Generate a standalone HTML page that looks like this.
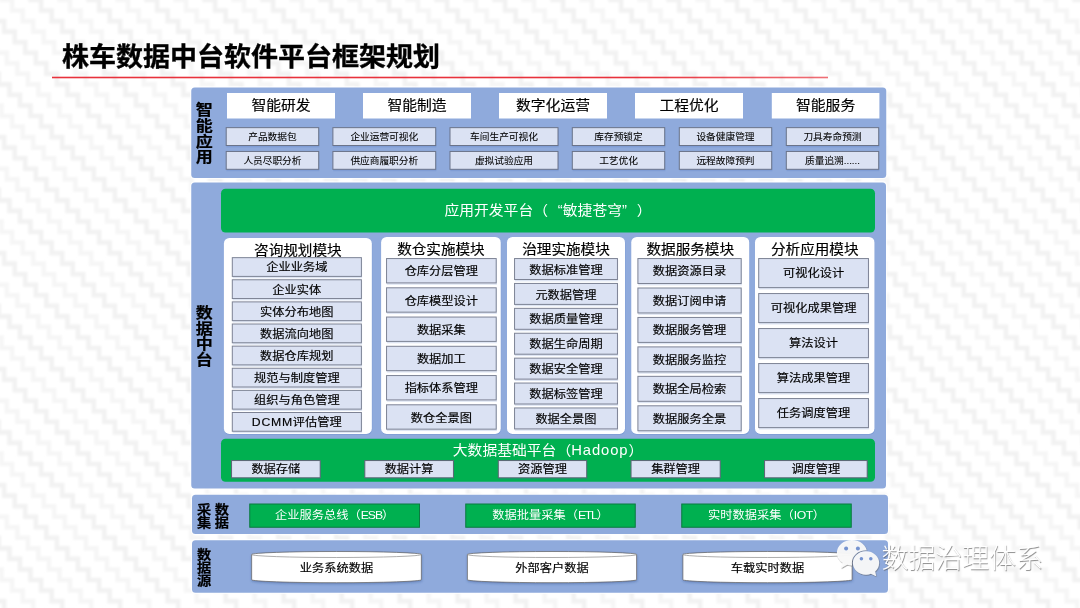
<!DOCTYPE html>
<html lang="zh-CN">
<head>
<meta charset="utf-8">
<title>株车数据中台软件平台框架规划</title>
<style>
html,body{margin:0;padding:0;}
body{width:1080px;height:608px;overflow:hidden;position:relative;background:#fff;font-family:"Liberation Sans", "Noto Sans CJK SC", sans-serif;color:#000;}
svg.layer{position:absolute;left:0;top:0;width:1080px;height:608px;}
.t{position:absolute;box-sizing:border-box;text-align:center;white-space:nowrap;}
#tx{position:absolute;left:0;top:0;width:1080px;height:608px;will-change:transform;filter:blur(.3px);}
#sv{filter:blur(.3px);}
#title{position:absolute;left:62px;top:36.75px;font-size:27px;line-height:40px;font-weight:bold;white-space:nowrap;-webkit-text-stroke:0.35px #000;transform:scaleY(.955);transform-origin:50% 46%;}
.head{font-size:14.8px;}
.mt{font-size:14.6px;}
.head,.m,.cy,.mt{-webkit-text-stroke:0.18px #000;}
.s{-webkit-text-stroke:0.08px #000;}
.s{font-size:9.7px;}
.m{font-size:12.25px;}
.gt{color:#fff;font-size:14.8px;}
.head,.s,.m,.gt,.gb,.cy,.mt{transform:scaleY(.93);transform-origin:50% 47%;}
.gt i{font-style:normal;display:inline-block;width:1em;}
.gt i.ql{text-align:right;}
.gt i.qr{text-align:left;}
.la{letter-spacing:.06em;}
.lb{letter-spacing:-.09em;}
.lc{letter-spacing:-.11em;}
.ld{letter-spacing:-.045em;}
.le{letter-spacing:0;}
.gb{color:#fff;font-size:12.25px;}
.cy{font-size:12.25px;}
.vlab{font-weight:bold;-webkit-text-stroke:0.25px #000;}
#wmt{position:absolute;left:881.6px;top:541.1px;font-size:26.9px;line-height:36px;font-weight:300;color:#fff;white-space:nowrap;text-shadow:0.6px 0.8px 0.7px rgba(80,80,80,.65);}
</style>
</head>
<body>
<svg class="layer" id="sv" width="1080" height="608" viewBox="0 0 1080 608">
<defs>
<pattern id="zz" width="58" height="116" patternUnits="userSpaceOnUse" patternTransform="translate(20,0)"><g fill="none" stroke="#f2f2f2" stroke-width="4.6"><path d="M-232.00 -21.09 V-10.55 H-221.45 V0.00 H-210.91 V10.55 H-200.36 V21.09 H-189.82 V31.64 H-179.27 V42.18 H-168.73 V52.73 H-158.18 V63.27 H-147.64 V73.82 H-137.09 V84.36 H-126.55 V94.91 H-116.00 V105.45 H-105.45 V116.00 H-94.91 V126.55 H-84.36 V137.09 H-73.82"/><path d="M-174.00 -21.09 V-10.55 H-163.45 V0.00 H-152.91 V10.55 H-142.36 V21.09 H-131.82 V31.64 H-121.27 V42.18 H-110.73 V52.73 H-100.18 V63.27 H-89.64 V73.82 H-79.09 V84.36 H-68.55 V94.91 H-58.00 V105.45 H-47.45 V116.00 H-36.91 V126.55 H-26.36 V137.09 H-15.82"/><path d="M-116.00 -21.09 V-10.55 H-105.45 V0.00 H-94.91 V10.55 H-84.36 V21.09 H-73.82 V31.64 H-63.27 V42.18 H-52.73 V52.73 H-42.18 V63.27 H-31.64 V73.82 H-21.09 V84.36 H-10.55 V94.91 H0.00 V105.45 H10.55 V116.00 H21.09 V126.55 H31.64 V137.09 H42.18"/><path d="M-58.00 -21.09 V-10.55 H-47.45 V0.00 H-36.91 V10.55 H-26.36 V21.09 H-15.82 V31.64 H-5.27 V42.18 H5.27 V52.73 H15.82 V63.27 H26.36 V73.82 H36.91 V84.36 H47.45 V94.91 H58.00 V105.45 H68.55 V116.00 H79.09 V126.55 H89.64 V137.09 H100.18"/><path d="M0.00 -21.09 V-10.55 H10.55 V0.00 H21.09 V10.55 H31.64 V21.09 H42.18 V31.64 H52.73 V42.18 H63.27 V52.73 H73.82 V63.27 H84.36 V73.82 H94.91 V84.36 H105.45 V94.91 H116.00 V105.45 H126.55 V116.00 H137.09 V126.55 H147.64 V137.09 H158.18"/><path d="M58.00 -21.09 V-10.55 H68.55 V0.00 H79.09 V10.55 H89.64 V21.09 H100.18 V31.64 H110.73 V42.18 H121.27 V52.73 H131.82 V63.27 H142.36 V73.82 H152.91 V84.36 H163.45 V94.91 H174.00 V105.45 H184.55 V116.00 H195.09 V126.55 H205.64 V137.09 H216.18"/><path d="M116.00 -21.09 V-10.55 H126.55 V0.00 H137.09 V10.55 H147.64 V21.09 H158.18 V31.64 H168.73 V42.18 H179.27 V52.73 H189.82 V63.27 H200.36 V73.82 H210.91 V84.36 H221.45 V94.91 H232.00 V105.45 H242.55 V116.00 H253.09 V126.55 H263.64 V137.09 H274.18"/></g><g fill="none" stroke="#f6f6f6" stroke-width="4.6"><path d="M-203.00 -21.09 V-10.55 H-192.45 V0.00 H-181.91 V10.55 H-171.36 V21.09 H-160.82 V31.64 H-150.27 V42.18 H-139.73 V52.73 H-129.18 V63.27 H-118.64 V73.82 H-108.09 V84.36 H-97.55 V94.91 H-87.00 V105.45 H-76.45 V116.00 H-65.91 V126.55 H-55.36 V137.09 H-44.82"/><path d="M-145.00 -21.09 V-10.55 H-134.45 V0.00 H-123.91 V10.55 H-113.36 V21.09 H-102.82 V31.64 H-92.27 V42.18 H-81.73 V52.73 H-71.18 V63.27 H-60.64 V73.82 H-50.09 V84.36 H-39.55 V94.91 H-29.00 V105.45 H-18.45 V116.00 H-7.91 V126.55 H2.64 V137.09 H13.18"/><path d="M-87.00 -21.09 V-10.55 H-76.45 V0.00 H-65.91 V10.55 H-55.36 V21.09 H-44.82 V31.64 H-34.27 V42.18 H-23.73 V52.73 H-13.18 V63.27 H-2.64 V73.82 H7.91 V84.36 H18.45 V94.91 H29.00 V105.45 H39.55 V116.00 H50.09 V126.55 H60.64 V137.09 H71.18"/><path d="M-29.00 -21.09 V-10.55 H-18.45 V0.00 H-7.91 V10.55 H2.64 V21.09 H13.18 V31.64 H23.73 V42.18 H34.27 V52.73 H44.82 V63.27 H55.36 V73.82 H65.91 V84.36 H76.45 V94.91 H87.00 V105.45 H97.55 V116.00 H108.09 V126.55 H118.64 V137.09 H129.18"/><path d="M29.00 -21.09 V-10.55 H39.55 V0.00 H50.09 V10.55 H60.64 V21.09 H71.18 V31.64 H81.73 V42.18 H92.27 V52.73 H102.82 V63.27 H113.36 V73.82 H123.91 V84.36 H134.45 V94.91 H145.00 V105.45 H155.55 V116.00 H166.09 V126.55 H176.64 V137.09 H187.18"/><path d="M87.00 -21.09 V-10.55 H97.55 V0.00 H108.09 V10.55 H118.64 V21.09 H129.18 V31.64 H139.73 V42.18 H150.27 V52.73 H160.82 V63.27 H171.36 V73.82 H181.91 V84.36 H192.45 V94.91 H203.00 V105.45 H213.55 V116.00 H224.09 V126.55 H234.64 V137.09 H245.18"/><path d="M145.00 -21.09 V-10.55 H155.55 V0.00 H166.09 V10.55 H176.64 V21.09 H187.18 V31.64 H197.73 V42.18 H208.27 V52.73 H218.82 V63.27 H229.36 V73.82 H239.91 V84.36 H250.45 V94.91 H261.00 V105.45 H271.55 V116.00 H282.09 V126.55 H292.64 V137.09 H303.18"/></g></pattern>
<clipPath id="b1c"><path clip-rule="evenodd" d="M830 535 H885 V580 H830 Z M866 550.2 A14.2 12.8 0 0 0 851.8 563 A14.2 12.8 0 0 0 866 575.8 A14.2 12.8 0 0 0 880.2 563 A14.2 12.8 0 0 0 866 550.2 Z"/></clipPath>
<linearGradient id="rl" x1="0" x2="1" y1="0" y2="0">
<stop offset="0" stop-color="#e8323c"/><stop offset="0.75" stop-color="#e8323c"/><stop offset="1" stop-color="#e8323c" stop-opacity=".7"/>
</linearGradient>
<filter id="cs" x="-5%" y="-20%" width="110%" height="150%"><feDropShadow dx="0.3" dy="1.2" stdDeviation="0.9" flood-color="#2a4a8a" flood-opacity=".4"/></filter>
<filter id="bgb" x="0" y="0" width="100%" height="100%"><feGaussianBlur stdDeviation="0.9"/></filter>
<filter id="sh" x="-10%" y="-10%" width="120%" height="130%"><feDropShadow dx="0.5" dy="0.8" stdDeviation="0.4" flood-color="#505050" flood-opacity=".7"/></filter>
</defs>
<rect width="1080" height="608" fill="#fff"/>
<rect x="-5" y="-5" width="1090" height="618" fill="url(#zz)" filter="url(#bgb)"/>
<rect x="52" y="76.7" width="776" height="1.6" fill="url(#rl)"/>
<rect x="190.05" y="86.30" width="697.40" height="92.90" fill="#ffffff" rx="4.50" opacity=".75"/>
<rect x="191.25" y="87.50" width="695.00" height="90.50" fill="#8faadc" rx="3.50"/>
<rect x="190.05" y="181.30" width="697.15" height="308.40" fill="#ffffff" rx="4.50" opacity=".75"/>
<rect x="191.25" y="182.50" width="694.75" height="306.00" fill="#8faadc" rx="3.50"/>
<rect x="190.80" y="493.55" width="698.40" height="41.65" fill="#ffffff" rx="4.50" opacity=".75"/>
<rect x="192.00" y="494.75" width="696.00" height="39.25" fill="#8faadc" rx="3.50"/>
<rect x="190.80" y="539.05" width="698.40" height="54.90" fill="#ffffff" rx="4.50" opacity=".75"/>
<rect x="192.00" y="540.25" width="696.00" height="52.50" fill="#8faadc" rx="3.50"/>
<rect x="227.00" y="93.00" width="108.00" height="25.50" fill="#fff"/>
<rect x="363.00" y="93.00" width="108.00" height="25.50" fill="#fff"/>
<rect x="499.00" y="93.00" width="108.00" height="25.50" fill="#fff"/>
<rect x="635.00" y="93.00" width="108.00" height="25.50" fill="#fff"/>
<rect x="771.80" y="93.00" width="107.60" height="25.50" fill="#fff"/>
<rect x="226.50" y="128.80" width="92.90" height="18.60" fill="#2f5cb5" opacity=".16"/>
<rect x="226.20" y="127.65" width="92.50" height="17.85" fill="#dbe2f3" stroke="#6a7389" stroke-width="1.00"/>
<rect x="333.20" y="128.80" width="103.20" height="18.60" fill="#2f5cb5" opacity=".16"/>
<rect x="332.90" y="127.65" width="102.80" height="17.85" fill="#dbe2f3" stroke="#6a7389" stroke-width="1.00"/>
<rect x="450.30" y="128.80" width="108.40" height="18.60" fill="#2f5cb5" opacity=".16"/>
<rect x="450.00" y="127.65" width="108.00" height="17.85" fill="#dbe2f3" stroke="#6a7389" stroke-width="1.00"/>
<rect x="572.60" y="128.80" width="92.80" height="18.60" fill="#2f5cb5" opacity=".16"/>
<rect x="572.30" y="127.65" width="92.40" height="17.85" fill="#dbe2f3" stroke="#6a7389" stroke-width="1.00"/>
<rect x="679.60" y="128.80" width="92.80" height="18.60" fill="#2f5cb5" opacity=".16"/>
<rect x="679.30" y="127.65" width="92.40" height="17.85" fill="#dbe2f3" stroke="#6a7389" stroke-width="1.00"/>
<rect x="786.60" y="128.80" width="92.80" height="18.60" fill="#2f5cb5" opacity=".16"/>
<rect x="786.30" y="127.65" width="92.40" height="17.85" fill="#dbe2f3" stroke="#6a7389" stroke-width="1.00"/>
<rect x="226.50" y="152.60" width="92.90" height="18.60" fill="#2f5cb5" opacity=".16"/>
<rect x="226.20" y="151.45" width="92.50" height="17.85" fill="#dbe2f3" stroke="#6a7389" stroke-width="1.00"/>
<rect x="333.20" y="152.60" width="103.20" height="18.60" fill="#2f5cb5" opacity=".16"/>
<rect x="332.90" y="151.45" width="102.80" height="17.85" fill="#dbe2f3" stroke="#6a7389" stroke-width="1.00"/>
<rect x="450.30" y="152.60" width="108.40" height="18.60" fill="#2f5cb5" opacity=".16"/>
<rect x="450.00" y="151.45" width="108.00" height="17.85" fill="#dbe2f3" stroke="#6a7389" stroke-width="1.00"/>
<rect x="572.60" y="152.60" width="92.80" height="18.60" fill="#2f5cb5" opacity=".16"/>
<rect x="572.30" y="151.45" width="92.40" height="17.85" fill="#dbe2f3" stroke="#6a7389" stroke-width="1.00"/>
<rect x="679.60" y="152.60" width="92.80" height="18.60" fill="#2f5cb5" opacity=".16"/>
<rect x="679.30" y="151.45" width="92.40" height="17.85" fill="#dbe2f3" stroke="#6a7389" stroke-width="1.00"/>
<rect x="786.60" y="152.60" width="92.80" height="18.60" fill="#2f5cb5" opacity=".16"/>
<rect x="786.30" y="151.45" width="92.40" height="17.85" fill="#dbe2f3" stroke="#6a7389" stroke-width="1.00"/>
<rect x="221.00" y="188.75" width="654.00" height="43.75" fill="#00b050" rx="4.50"/>
<rect x="224.30" y="238.80" width="147.95" height="196.00" rx="5.5" fill="#2f5cb5" opacity=".18"/>
<rect x="223.90" y="237.90" width="147.95" height="196.00" fill="#fff" rx="5.50"/>
<rect x="232.60" y="258.80" width="129.50" height="19.50" fill="#2f5cb5" opacity=".16"/>
<rect x="232.30" y="257.65" width="129.10" height="18.75" fill="#dbe2f3" stroke="#7d8395" stroke-width="1.00"/>
<rect x="232.60" y="280.92" width="129.50" height="19.50" fill="#2f5cb5" opacity=".16"/>
<rect x="232.30" y="279.77" width="129.10" height="18.75" fill="#dbe2f3" stroke="#7d8395" stroke-width="1.00"/>
<rect x="232.60" y="303.04" width="129.50" height="19.50" fill="#2f5cb5" opacity=".16"/>
<rect x="232.30" y="301.89" width="129.10" height="18.75" fill="#dbe2f3" stroke="#7d8395" stroke-width="1.00"/>
<rect x="232.60" y="325.16" width="129.50" height="19.50" fill="#2f5cb5" opacity=".16"/>
<rect x="232.30" y="324.01" width="129.10" height="18.75" fill="#dbe2f3" stroke="#7d8395" stroke-width="1.00"/>
<rect x="232.60" y="347.28" width="129.50" height="19.50" fill="#2f5cb5" opacity=".16"/>
<rect x="232.30" y="346.13" width="129.10" height="18.75" fill="#dbe2f3" stroke="#7d8395" stroke-width="1.00"/>
<rect x="232.60" y="369.40" width="129.50" height="19.50" fill="#2f5cb5" opacity=".16"/>
<rect x="232.30" y="368.25" width="129.10" height="18.75" fill="#dbe2f3" stroke="#7d8395" stroke-width="1.00"/>
<rect x="232.60" y="391.52" width="129.50" height="19.50" fill="#2f5cb5" opacity=".16"/>
<rect x="232.30" y="390.37" width="129.10" height="18.75" fill="#dbe2f3" stroke="#7d8395" stroke-width="1.00"/>
<rect x="232.60" y="413.64" width="129.50" height="19.50" fill="#2f5cb5" opacity=".16"/>
<rect x="232.30" y="412.49" width="129.10" height="18.75" fill="#dbe2f3" stroke="#7d8395" stroke-width="1.00"/>
<rect x="381.50" y="237.90" width="119.65" height="196.90" rx="5.5" fill="#2f5cb5" opacity=".18"/>
<rect x="381.10" y="237.00" width="119.65" height="196.90" fill="#fff" rx="5.50"/>
<rect x="386.85" y="259.70" width="110.05" height="25.10" fill="#2f5cb5" opacity=".16"/>
<rect x="386.55" y="258.55" width="109.65" height="24.35" fill="#dbe2f3" stroke="#7d8395" stroke-width="1.00"/>
<rect x="386.85" y="288.95" width="110.05" height="25.10" fill="#2f5cb5" opacity=".16"/>
<rect x="386.55" y="287.80" width="109.65" height="24.35" fill="#dbe2f3" stroke="#7d8395" stroke-width="1.00"/>
<rect x="386.85" y="318.20" width="110.05" height="25.10" fill="#2f5cb5" opacity=".16"/>
<rect x="386.55" y="317.05" width="109.65" height="24.35" fill="#dbe2f3" stroke="#7d8395" stroke-width="1.00"/>
<rect x="386.85" y="347.45" width="110.05" height="25.10" fill="#2f5cb5" opacity=".16"/>
<rect x="386.55" y="346.30" width="109.65" height="24.35" fill="#dbe2f3" stroke="#7d8395" stroke-width="1.00"/>
<rect x="386.85" y="376.70" width="110.05" height="25.10" fill="#2f5cb5" opacity=".16"/>
<rect x="386.55" y="375.55" width="109.65" height="24.35" fill="#dbe2f3" stroke="#7d8395" stroke-width="1.00"/>
<rect x="386.85" y="405.95" width="110.05" height="25.10" fill="#2f5cb5" opacity=".16"/>
<rect x="386.55" y="404.80" width="109.65" height="24.35" fill="#dbe2f3" stroke="#7d8395" stroke-width="1.00"/>
<rect x="507.40" y="237.90" width="118.00" height="196.90" rx="5.5" fill="#2f5cb5" opacity=".18"/>
<rect x="507.00" y="237.00" width="118.00" height="196.90" fill="#fff" rx="5.50"/>
<rect x="514.85" y="259.70" width="103.30" height="21.70" fill="#2f5cb5" opacity=".16"/>
<rect x="514.55" y="258.55" width="102.90" height="20.95" fill="#dbe2f3" stroke="#7d8395" stroke-width="1.00"/>
<rect x="514.85" y="284.60" width="103.30" height="21.70" fill="#2f5cb5" opacity=".16"/>
<rect x="514.55" y="283.45" width="102.90" height="20.95" fill="#dbe2f3" stroke="#7d8395" stroke-width="1.00"/>
<rect x="514.85" y="309.50" width="103.30" height="21.70" fill="#2f5cb5" opacity=".16"/>
<rect x="514.55" y="308.35" width="102.90" height="20.95" fill="#dbe2f3" stroke="#7d8395" stroke-width="1.00"/>
<rect x="514.85" y="334.40" width="103.30" height="21.70" fill="#2f5cb5" opacity=".16"/>
<rect x="514.55" y="333.25" width="102.90" height="20.95" fill="#dbe2f3" stroke="#7d8395" stroke-width="1.00"/>
<rect x="514.85" y="359.30" width="103.30" height="21.70" fill="#2f5cb5" opacity=".16"/>
<rect x="514.55" y="358.15" width="102.90" height="20.95" fill="#dbe2f3" stroke="#7d8395" stroke-width="1.00"/>
<rect x="514.85" y="384.20" width="103.30" height="21.70" fill="#2f5cb5" opacity=".16"/>
<rect x="514.55" y="383.05" width="102.90" height="20.95" fill="#dbe2f3" stroke="#7d8395" stroke-width="1.00"/>
<rect x="514.85" y="409.10" width="103.30" height="21.70" fill="#2f5cb5" opacity=".16"/>
<rect x="514.55" y="407.95" width="102.90" height="20.95" fill="#dbe2f3" stroke="#7d8395" stroke-width="1.00"/>
<rect x="631.65" y="237.90" width="118.00" height="196.90" rx="5.5" fill="#2f5cb5" opacity=".18"/>
<rect x="631.25" y="237.00" width="118.00" height="196.90" fill="#fff" rx="5.50"/>
<rect x="638.20" y="259.70" width="103.70" height="25.70" fill="#2f5cb5" opacity=".16"/>
<rect x="637.90" y="258.55" width="103.30" height="24.95" fill="#dbe2f3" stroke="#7d8395" stroke-width="1.00"/>
<rect x="638.20" y="289.15" width="103.70" height="25.70" fill="#2f5cb5" opacity=".16"/>
<rect x="637.90" y="288.00" width="103.30" height="24.95" fill="#dbe2f3" stroke="#7d8395" stroke-width="1.00"/>
<rect x="638.20" y="318.60" width="103.70" height="25.70" fill="#2f5cb5" opacity=".16"/>
<rect x="637.90" y="317.45" width="103.30" height="24.95" fill="#dbe2f3" stroke="#7d8395" stroke-width="1.00"/>
<rect x="638.20" y="348.05" width="103.70" height="25.70" fill="#2f5cb5" opacity=".16"/>
<rect x="637.90" y="346.90" width="103.30" height="24.95" fill="#dbe2f3" stroke="#7d8395" stroke-width="1.00"/>
<rect x="638.20" y="377.50" width="103.70" height="25.70" fill="#2f5cb5" opacity=".16"/>
<rect x="637.90" y="376.35" width="103.30" height="24.95" fill="#dbe2f3" stroke="#7d8395" stroke-width="1.00"/>
<rect x="638.20" y="406.95" width="103.70" height="25.70" fill="#2f5cb5" opacity=".16"/>
<rect x="637.90" y="405.80" width="103.30" height="24.95" fill="#dbe2f3" stroke="#7d8395" stroke-width="1.00"/>
<rect x="755.40" y="237.90" width="119.50" height="196.90" rx="5.5" fill="#2f5cb5" opacity=".18"/>
<rect x="755.00" y="237.00" width="119.50" height="196.90" fill="#fff" rx="5.50"/>
<rect x="759.00" y="259.70" width="110.15" height="29.80" fill="#2f5cb5" opacity=".16"/>
<rect x="758.70" y="258.55" width="109.75" height="29.05" fill="#dbe2f3" stroke="#7d8395" stroke-width="1.00"/>
<rect x="759.00" y="294.70" width="110.15" height="29.80" fill="#2f5cb5" opacity=".16"/>
<rect x="758.70" y="293.55" width="109.75" height="29.05" fill="#dbe2f3" stroke="#7d8395" stroke-width="1.00"/>
<rect x="759.00" y="329.70" width="110.15" height="29.80" fill="#2f5cb5" opacity=".16"/>
<rect x="758.70" y="328.55" width="109.75" height="29.05" fill="#dbe2f3" stroke="#7d8395" stroke-width="1.00"/>
<rect x="759.00" y="364.70" width="110.15" height="29.80" fill="#2f5cb5" opacity=".16"/>
<rect x="758.70" y="363.55" width="109.75" height="29.05" fill="#dbe2f3" stroke="#7d8395" stroke-width="1.00"/>
<rect x="759.00" y="399.70" width="110.15" height="29.80" fill="#2f5cb5" opacity=".16"/>
<rect x="758.70" y="398.55" width="109.75" height="29.05" fill="#dbe2f3" stroke="#7d8395" stroke-width="1.00"/>
<rect x="221.00" y="438.75" width="654.00" height="43.00" fill="#00b050" rx="4.50"/>
<rect x="231.85" y="461.70" width="89.05" height="18.00" fill="#2f5cb5" opacity=".16"/>
<rect x="231.55" y="460.55" width="88.65" height="17.25" fill="#dbe2f3" stroke="#5c6675" stroke-width="1.00"/>
<rect x="365.10" y="461.70" width="89.05" height="18.00" fill="#2f5cb5" opacity=".16"/>
<rect x="364.80" y="460.55" width="88.65" height="17.25" fill="#dbe2f3" stroke="#5c6675" stroke-width="1.00"/>
<rect x="498.60" y="461.70" width="88.80" height="18.00" fill="#2f5cb5" opacity=".16"/>
<rect x="498.30" y="460.55" width="88.40" height="17.25" fill="#dbe2f3" stroke="#5c6675" stroke-width="1.00"/>
<rect x="631.35" y="461.70" width="89.55" height="18.00" fill="#2f5cb5" opacity=".16"/>
<rect x="631.05" y="460.55" width="89.15" height="17.25" fill="#dbe2f3" stroke="#5c6675" stroke-width="1.00"/>
<rect x="764.85" y="461.70" width="103.05" height="18.00" fill="#2f5cb5" opacity=".16"/>
<rect x="764.55" y="460.55" width="102.65" height="17.25" fill="#dbe2f3" stroke="#5c6675" stroke-width="1.00"/>
<rect x="249.75" y="504.00" width="169.75" height="23.25" fill="#00b050" stroke="#0b7a40" stroke-width="1.00"/>
<rect x="465.75" y="504.00" width="169.50" height="23.25" fill="#00b050" stroke="#0b7a40" stroke-width="1.00"/>
<rect x="681.75" y="504.00" width="169.50" height="23.25" fill="#00b050" stroke="#0b7a40" stroke-width="1.00"/>
<path d="M251.65 554.50 A 84.85 3.00 0 0 1 421.35 554.50 L 421.35 579.70 A 84.85 3.00 0 0 1 251.65 579.70 Z" fill="#fff" stroke="#5f5f5f" stroke-width="0.7" filter="url(#cs)"/>
<path d="M251.65 554.50 A 84.85 3.00 0 0 0 421.35 554.50" fill="none" stroke="#8a8a8a" stroke-width="0.7"/>
<path d="M467.40 554.50 A 84.60 3.00 0 0 1 636.60 554.50 L 636.60 579.70 A 84.60 3.00 0 0 1 467.40 579.70 Z" fill="#fff" stroke="#5f5f5f" stroke-width="0.7" filter="url(#cs)"/>
<path d="M467.40 554.50 A 84.60 3.00 0 0 0 636.60 554.50" fill="none" stroke="#8a8a8a" stroke-width="0.7"/>
<path d="M682.90 554.50 A 84.60 3.00 0 0 1 852.10 554.50 L 852.10 579.70 A 84.60 3.00 0 0 1 682.90 579.70 Z" fill="#fff" stroke="#5f5f5f" stroke-width="0.7" filter="url(#cs)"/>
<path d="M682.90 554.50 A 84.60 3.00 0 0 0 852.10 554.50" fill="none" stroke="#8a8a8a" stroke-width="0.7"/>
<g filter="url(#sh)">
<g fill="#fff" fill-opacity=".9">
<path d="M851.9 539.9 A15 12.8 0 0 1 866.9 552.7 A15 12.8 0 0 1 851.9 565.5 C850.2 565.5 848.6 565.3 847.1 564.8 L841 568.2 L842.6 562.8 A15 12.8 0 0 1 836.9 552.7 A15 12.8 0 0 1 851.9 539.9 Z" clip-path="url(#b1c)"/>
<path d="M866 551.3 A13.1 11.7 0 0 1 879.1 563 C879.1 566.3 877.6 569.3 875.1 571.4 L876.2 576.3 L870.9 573.8 C869.4 574.4 867.7 574.7 866 574.7 A13.1 11.7 0 0 1 852.9 563 A13.1 11.7 0 0 1 866 551.3 Z"/>
</g>
<circle cx="846.1" cy="548.6" r="2" fill="#7593d0"/><circle cx="857.9" cy="548.6" r="2" fill="#7593d0"/>
<circle cx="861.4" cy="558.7" r="1.75" fill="#7593d0"/><circle cx="870.8" cy="558.7" r="1.75" fill="#7593d0"/>
</g>
</svg>
<div id="tx">
<div id="title">株车数据中台软件平台框架规划</div>
<div class="t head" style="left:227.00px;top:93.10px;width:108.00px;height:25.50px;line-height:25.50px;">智能研发</div>
<div class="t head" style="left:363.00px;top:93.10px;width:108.00px;height:25.50px;line-height:25.50px;">智能制造</div>
<div class="t head" style="left:499.00px;top:93.10px;width:108.00px;height:25.50px;line-height:25.50px;">数字化运营</div>
<div class="t head" style="left:635.00px;top:93.10px;width:108.00px;height:25.50px;line-height:25.50px;">工程优化</div>
<div class="t head" style="left:771.80px;top:93.10px;width:107.60px;height:25.50px;line-height:25.50px;">智能服务</div>
<div class="t s" style="left:225.90px;top:127.90px;width:93.10px;height:18.40px;line-height:18.40px;">产品数据包</div>
<div class="t s" style="left:332.60px;top:127.90px;width:103.40px;height:18.40px;line-height:18.40px;">企业运营可视化</div>
<div class="t s" style="left:449.70px;top:127.90px;width:108.60px;height:18.40px;line-height:18.40px;">车间生产可视化</div>
<div class="t s" style="left:572.00px;top:127.90px;width:93.00px;height:18.40px;line-height:18.40px;">库存预锁定</div>
<div class="t s" style="left:679.00px;top:127.90px;width:93.00px;height:18.40px;line-height:18.40px;">设备健康管理</div>
<div class="t s" style="left:786.00px;top:127.90px;width:93.00px;height:18.40px;line-height:18.40px;">刀具寿命预测</div>
<div class="t s" style="left:225.90px;top:151.70px;width:93.10px;height:18.40px;line-height:18.40px;">人员尽职分析</div>
<div class="t s" style="left:332.60px;top:151.70px;width:103.40px;height:18.40px;line-height:18.40px;">供应商履职分析</div>
<div class="t s" style="left:449.70px;top:151.70px;width:108.60px;height:18.40px;line-height:18.40px;">虚拟试验应用</div>
<div class="t s" style="left:572.00px;top:151.70px;width:93.00px;height:18.40px;line-height:18.40px;">工艺优化</div>
<div class="t s" style="left:679.00px;top:151.70px;width:93.00px;height:18.40px;line-height:18.40px;">远程故障预判</div>
<div class="t s" style="left:786.00px;top:151.70px;width:93.00px;height:18.40px;line-height:18.40px;">质量追溯<span class="le">......</span></div>
<div class="t vlab" style="left:192.30px;top:103.10px;width:24px;font-size:17.00px;line-height:17.416px;transform:scaleY(0.89);transform-origin:50% 0;">智<br>能<br>应<br>用</div>
<div class="t gt" style="left:221.00px;top:189.25px;width:654.00px;height:43.75px;line-height:43.75px;">应用开发平台（<i class="ql">“</i>敏捷苍穹<i class="qr">”</i>）</div>
<div class="t mt" style="left:223.90px;top:237.90px;width:147.95px;height:25.60px;line-height:25.60px;overflow:hidden;">咨询规划模块</div>
<div class="t m" style="left:232.00px;top:258.40px;width:129.70px;height:19.30px;line-height:19.30px;">企业业务域</div>
<div class="t m" style="left:232.00px;top:280.52px;width:129.70px;height:19.30px;line-height:19.30px;">企业实体</div>
<div class="t m" style="left:232.00px;top:302.64px;width:129.70px;height:19.30px;line-height:19.30px;">实体分布地图</div>
<div class="t m" style="left:232.00px;top:324.76px;width:129.70px;height:19.30px;line-height:19.30px;">数据流向地图</div>
<div class="t m" style="left:232.00px;top:346.88px;width:129.70px;height:19.30px;line-height:19.30px;">数据仓库规划</div>
<div class="t m" style="left:232.00px;top:369.00px;width:129.70px;height:19.30px;line-height:19.30px;">规范与制度管理</div>
<div class="t m" style="left:232.00px;top:391.12px;width:129.70px;height:19.30px;line-height:19.30px;">组织与角色管理</div>
<div class="t m" style="left:232.00px;top:413.24px;width:129.70px;height:19.30px;line-height:19.30px;"><span class="la">DCMM</span>评估管理</div>
<div class="t mt" style="left:381.10px;top:237.00px;width:119.65px;height:25.80px;line-height:25.80px;overflow:hidden;">数仓实施模块</div>
<div class="t m" style="left:386.25px;top:259.30px;width:110.25px;height:24.90px;line-height:24.90px;">仓库分层管理</div>
<div class="t m" style="left:386.25px;top:288.55px;width:110.25px;height:24.90px;line-height:24.90px;">仓库模型设计</div>
<div class="t m" style="left:386.25px;top:317.80px;width:110.25px;height:24.90px;line-height:24.90px;">数据采集</div>
<div class="t m" style="left:386.25px;top:347.05px;width:110.25px;height:24.90px;line-height:24.90px;">数据加工</div>
<div class="t m" style="left:386.25px;top:376.30px;width:110.25px;height:24.90px;line-height:24.90px;">指标体系管理</div>
<div class="t m" style="left:386.25px;top:405.55px;width:110.25px;height:24.90px;line-height:24.90px;">数仓全景图</div>
<div class="t mt" style="left:507.00px;top:237.00px;width:118.00px;height:25.80px;line-height:25.80px;overflow:hidden;">治理实施模块</div>
<div class="t m" style="left:514.25px;top:259.60px;width:103.50px;height:21.50px;line-height:21.50px;">数据标准管理</div>
<div class="t m" style="left:514.25px;top:284.50px;width:103.50px;height:21.50px;line-height:21.50px;">元数据管理</div>
<div class="t m" style="left:514.25px;top:309.40px;width:103.50px;height:21.50px;line-height:21.50px;">数据质量管理</div>
<div class="t m" style="left:514.25px;top:334.30px;width:103.50px;height:21.50px;line-height:21.50px;">数据生命周期</div>
<div class="t m" style="left:514.25px;top:359.20px;width:103.50px;height:21.50px;line-height:21.50px;">数据安全管理</div>
<div class="t m" style="left:514.25px;top:384.10px;width:103.50px;height:21.50px;line-height:21.50px;">数据标签管理</div>
<div class="t m" style="left:514.25px;top:409.00px;width:103.50px;height:21.50px;line-height:21.50px;">数据全景图</div>
<div class="t mt" style="left:631.25px;top:237.00px;width:118.00px;height:25.80px;line-height:25.80px;overflow:hidden;">数据服务模块</div>
<div class="t m" style="left:637.60px;top:259.30px;width:103.90px;height:25.50px;line-height:25.50px;">数据资源目录</div>
<div class="t m" style="left:637.60px;top:288.75px;width:103.90px;height:25.50px;line-height:25.50px;">数据订阅申请</div>
<div class="t m" style="left:637.60px;top:318.20px;width:103.90px;height:25.50px;line-height:25.50px;">数据服务管理</div>
<div class="t m" style="left:637.60px;top:347.65px;width:103.90px;height:25.50px;line-height:25.50px;">数据服务监控</div>
<div class="t m" style="left:637.60px;top:377.10px;width:103.90px;height:25.50px;line-height:25.50px;">数据全局检索</div>
<div class="t m" style="left:637.60px;top:406.55px;width:103.90px;height:25.50px;line-height:25.50px;">数据服务全景</div>
<div class="t mt" style="left:755.00px;top:237.00px;width:119.50px;height:25.20px;line-height:25.20px;overflow:hidden;">分析应用模块</div>
<div class="t m" style="left:758.40px;top:259.10px;width:110.35px;height:29.60px;line-height:29.60px;">可视化设计</div>
<div class="t m" style="left:758.40px;top:294.10px;width:110.35px;height:29.60px;line-height:29.60px;">可视化成果管理</div>
<div class="t m" style="left:758.40px;top:329.10px;width:110.35px;height:29.60px;line-height:29.60px;">算法设计</div>
<div class="t m" style="left:758.40px;top:364.10px;width:110.35px;height:29.60px;line-height:29.60px;">算法成果管理</div>
<div class="t m" style="left:758.40px;top:399.10px;width:110.35px;height:29.60px;line-height:29.60px;">任务调度管理</div>
<div class="t vlab" style="left:192.30px;top:305.31px;width:24px;font-size:17.00px;line-height:17.667px;transform:scaleY(0.90);transform-origin:50% 0;">数<br>据<br>中<br>台</div>
<div class="t gt" style="left:221.00px;top:429.80px;width:654.00px;height:40.00px;line-height:40.00px;">大数据基础平台（<span class="la">Hadoop</span>）</div>
<div class="t m" style="left:231.25px;top:461.30px;width:89.25px;height:17.80px;line-height:17.80px;">数据存储</div>
<div class="t m" style="left:364.50px;top:461.30px;width:89.25px;height:17.80px;line-height:17.80px;">数据计算</div>
<div class="t m" style="left:498.00px;top:461.30px;width:89.00px;height:17.80px;line-height:17.80px;">资源管理</div>
<div class="t m" style="left:630.75px;top:461.30px;width:89.75px;height:17.80px;line-height:17.80px;">集群管理</div>
<div class="t m" style="left:764.25px;top:461.30px;width:103.25px;height:17.80px;line-height:17.80px;">调度管理</div>
<div class="t gb" style="left:249.25px;top:503.20px;width:170.75px;height:24.25px;line-height:24.25px;">企业服务总线（<span class="lb">ESB</span>）</div>
<div class="t gb" style="left:465.25px;top:503.20px;width:170.50px;height:24.25px;line-height:24.25px;">数据批量采集（<span class="lc">ETL</span>）</div>
<div class="t gb" style="left:681.25px;top:503.20px;width:170.50px;height:24.25px;line-height:24.25px;">实时数据采集（<span class="ld">IOT</span>）</div>
<div class="t vlab" style="left:192.10px;top:502.57px;width:24px;font-size:14.20px;line-height:14.500px;transform:scaleY(0.90);transform-origin:50% 0;">采<br>集</div>
<div class="t vlab" style="left:209.80px;top:502.57px;width:24px;font-size:14.20px;line-height:14.500px;transform:scaleY(0.90);transform-origin:50% 0;">数<br>据</div>
<div class="t cy" style="left:251.25px;top:552.75px;width:170.50px;height:30.50px;line-height:30.50px;">业务系统数据</div>
<div class="t cy" style="left:467.00px;top:552.75px;width:170.00px;height:30.50px;line-height:30.50px;">外部客户数据</div>
<div class="t cy" style="left:682.50px;top:552.75px;width:170.00px;height:30.50px;line-height:30.50px;">车载实时数据</div>
<div class="t vlab" style="left:192.10px;top:548.02px;width:24px;font-size:14.20px;line-height:14.611px;transform:scaleY(0.90);transform-origin:50% 0;">数<br>据<br>源</div>
<div id="wmt">数据治理体系</div>
</div>
</body>
</html>
